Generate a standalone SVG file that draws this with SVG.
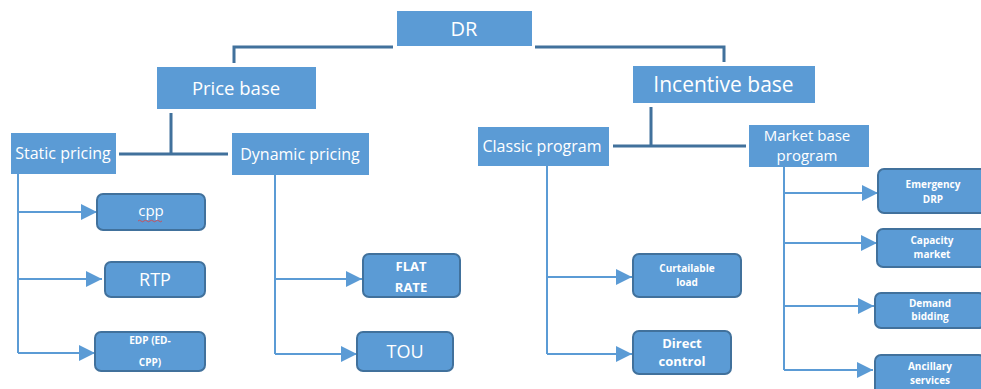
<svg xmlns="http://www.w3.org/2000/svg" width="981" height="389" viewBox="0 0 981 389">
<style>
.box{fill:#5b9bd5;}
.leaf{fill:#5b9bd5;stroke:#41719c;stroke-width:2;}
.t{font-family:"Open Sans","Liberation Sans",sans-serif;fill:#ffffff;text-anchor:middle;}
.b{font-weight:bold;}
.main{fill:none;stroke:#41719c;stroke-width:3;}
.arr{fill:none;stroke:#5b9bd5;stroke-width:2;}
</style>
<defs>
<marker id="ah" viewBox="0 0 16 16" refX="16" refY="8" markerWidth="16" markerHeight="16" markerUnits="userSpaceOnUse" orient="auto">
<path d="M0,0 L16,8 L0,16 Z" fill="#5b9bd5"/>
</marker>
</defs>
<rect width="981" height="389" fill="#ffffff"/>
<g id="connectors">
<path class="main" d="M393,47 H234 V63"/>
<path class="main" d="M535,47 H724 V62"/>
<path class="main" d="M171,113 V154 M119,154 H228"/>
<path class="main" d="M651,107 V146 M613,146 H746"/>
<path class="arr" d="M18,174 V353"/>
<path class="arr" d="M18,212 H97" marker-end="url(#ah)"/>
<path class="arr" d="M18,279 H102" marker-end="url(#ah)"/>
<path class="arr" d="M18,353 H95" marker-end="url(#ah)"/>
<path class="arr" d="M275,175 V354"/>
<path class="arr" d="M275,279 H362" marker-end="url(#ah)"/>
<path class="arr" d="M275,354 H357" marker-end="url(#ah)"/>
<path class="arr" d="M547,166 V354"/>
<path class="arr" d="M547,277 H632" marker-end="url(#ah)"/>
<path class="arr" d="M547,354 H632" marker-end="url(#ah)"/>
<path class="arr" d="M784,167 V370"/>
<path class="arr" d="M784,193 H878" marker-end="url(#ah)"/>
<path class="arr" d="M784,243 H877" marker-end="url(#ah)"/>
<path class="arr" d="M784,306 H874" marker-end="url(#ah)"/>
<path class="arr" d="M784,370 H873" marker-end="url(#ah)"/>
</g>
<g id="dr"><rect class="box" x="397" y="11" width="135" height="35"/><text class="t" x="464" y="35.5" font-size="20">DR</text></g>
<g id="price-base"><rect class="box" x="157" y="67" width="159" height="42"/><text class="t" x="236" y="94.5" font-size="18.5">Price base</text></g>
<g id="incentive-base"><rect class="box" x="633" y="66" width="182" height="37"/><text class="t" x="723.5" y="91.5" font-size="21">Incentive base</text></g>
<g id="static-pricing"><rect class="box" x="11" y="133" width="105" height="41"/><text class="t" x="63" y="159" font-size="16">Static pricing</text></g>
<g id="dynamic-pricing"><rect class="box" x="232" y="133" width="137" height="42"/><text class="t" x="300" y="159.5" font-size="16">Dynamic pricing</text></g>
<g id="classic-program"><rect class="box" x="478" y="127" width="131" height="39"/><text class="t" x="542" y="152" font-size="16">Classic program</text></g>
<g id="market-base-program"><rect class="box" x="749" y="125" width="120" height="42"/><text class="t" x="807" y="140.5" font-size="15">Market base</text><text class="t" x="807" y="161" font-size="15">program</text></g>
<g id="cpp"><rect class="leaf" x="97" y="194" width="108" height="36" rx="6"/><text class="t" x="151" y="216" font-size="15">cpp</text><path d="M138,221 q1.5,-1.5 3,0 t3,0 t3,0 t3,0 t3,0 t3,0 t3,0 t3,0" fill="none" stroke="#e04040" stroke-width="0.8"/></g>
<g id="rtp"><rect class="leaf" x="105" y="262" width="100" height="35" rx="6"/><text class="t" x="155" y="286" font-size="18">RTP</text></g>
<g id="edp"><rect class="leaf" x="95" y="332" width="110" height="39" rx="6"/><text class="t b" x="150" y="344" font-size="10">EDP (ED-</text><text class="t b" x="150" y="366" font-size="10">CPP)</text></g>
<g id="flat-rate"><rect class="leaf" x="363" y="254" width="97" height="43" rx="6"/><text class="t b" x="411" y="271" font-size="13">FLAT</text><text class="t b" x="411" y="292" font-size="13">RATE</text></g>
<g id="tou"><rect class="leaf" x="357" y="332" width="96" height="39" rx="6"/><text class="t" x="405" y="358" font-size="18">TOU</text></g>
<g id="curtailable-load"><rect class="leaf" x="633" y="254" width="108" height="43" rx="6"/><text class="t b" x="687" y="272" font-size="10">Curtailable</text><text class="t b" x="687" y="286" font-size="10">load</text></g>
<g id="direct-control"><rect class="leaf" x="633" y="331" width="98" height="43" rx="6"/><text class="t b" x="682" y="348" font-size="13">Direct</text><text class="t b" x="682" y="366" font-size="13">control</text></g>
<g id="emergency-drp"><rect class="leaf" x="878" y="169" width="110" height="44" rx="6"/><text class="t b" x="933" y="188" font-size="10">Emergency</text><text class="t b" x="933" y="203" font-size="10">DRP</text></g>
<g id="capacity-market"><rect class="leaf" x="877" y="229" width="110" height="38" rx="6"/><text class="t b" x="932" y="244" font-size="10">Capacity</text><text class="t b" x="932" y="258" font-size="10">market</text></g>
<g id="demand-bidding"><rect class="leaf" x="875" y="293" width="110" height="35" rx="6"/><text class="t b" x="930" y="307" font-size="10">Demand</text><text class="t b" x="930" y="320" font-size="10">bidding</text></g>
<g id="ancillary-services"><rect class="leaf" x="875" y="355" width="110" height="44" rx="6"/><text class="t b" x="930" y="370" font-size="10">Ancillary</text><text class="t b" x="930" y="384" font-size="10">services</text></g>
</svg>
